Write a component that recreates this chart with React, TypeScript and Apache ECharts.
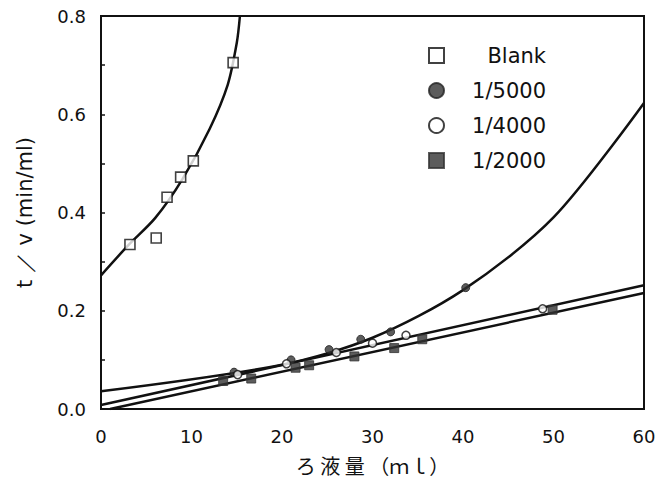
import React, { useEffect, useRef } from "react";
import * as echarts from "echarts";

// Measured points
const blankPts = [[3.2, 0.335], [6.1, 0.348], [7.3, 0.431], [8.8, 0.472], [10.2, 0.505], [14.6, 0.705]];
const p5000Pts = [[14.7, 0.075], [21.0, 0.1], [25.2, 0.121], [28.7, 0.142], [32.0, 0.157], [40.3, 0.247]];
const p4000Pts = [[15.1, 0.07], [20.5, 0.092], [26.0, 0.115], [30.0, 0.134], [33.7, 0.15], [48.8, 0.204]];
const p2000Pts = [[13.5, 0.057], [16.6, 0.062], [21.5, 0.084], [23.0, 0.089], [28.0, 0.107], [32.4, 0.124], [35.5, 0.142], [49.9, 0.202]];

// Fitted curves
const blankCurve = [[0, 0.272], [3, 0.333], [6, 0.389], [9, 0.468], [12, 0.57], [14, 0.66], [15, 0.745], [15.35, 0.8]];
const curve5000 = [[0, 0.036], [20, 0.09], [30, 0.145], [40, 0.242], [50, 0.39], [60, 0.623]];
const line4000 = [[0, 0.008], [60, 0.252]];
const line2000 = [[1, 0], [60, 0.236]];

const xTicks = { min: 0, max: 60, interval: 10 };
const yTicks = { min: 0, max: 0.8, interval: 0.2 };

const legendNames = ["Blank", "1/5000", "1/4000", "1/2000"];

const FONT = "DejaVu Sans";
const CJK = "Noto Sans CJK JP";

export default function App() {
  const ref = useRef<HTMLDivElement>(null);
  useEffect(() => {
    if (!ref.current) return;
    const chart = echarts.init(ref.current, null, { renderer: "svg" });
    const lineSeries = (name: string, data: number[][], smooth: number | boolean) => ({
      name,
      type: "line",
      data,
      smooth,
      showSymbol: false,
      symbol: "none",
      lineStyle: { color: "#111", width: 2.5 },
      z: 2,
      silent: true,
    });
    chart.setOption({
      animation: false,
      backgroundColor: "#fff",
      grid: {
        left: 101,
        right: 17,
        top: 16,
        bottom: 76,
        show: true,
        borderColor: "#111",
        borderWidth: 2,
        backgroundColor: "transparent",
      },
      legend: {
        data: legendNames,
        orient: "vertical",
        left: 423,
        top: 40,
        itemWidth: 15,
        itemHeight: 15,
        itemGap: 14,
        selectedMode: false,
        formatter: (n: string) => "{a|" + n + "}",
        textStyle: {
          color: "#111",
          rich: { a: { width: 97, align: "right", fontSize: 21, fontFamily: FONT, color: "#111" } },
        },
      },
      xAxis: {
        type: "value",
        ...xTicks,
        name: "ろ 液 量 （ｍｌ）",
        nameLocation: "middle",
        nameGap: 46,
        nameTextStyle: { fontSize: 20, fontFamily: CJK, color: "#111" },
        axisLine: { show: true, lineStyle: { color: "#111", width: 2 } },
        axisTick: { show: false },
        splitLine: { show: false },
        axisLabel: { fontSize: 18, fontFamily: FONT, color: "#111", margin: 18 },
      },
      yAxis: {
        type: "value",
        ...yTicks,
        name: "t ／ v (min/ml)",
        nameLocation: "middle",
        nameGap: 66,
        nameTextStyle: { fontSize: 21, fontFamily: FONT, color: "#111" },
        axisLine: { show: true, lineStyle: { color: "#111", width: 2 } },
        axisTick: { show: true, inside: true, length: 4, lineStyle: { color: "#111", width: 1.5 } },
        minorTick: { show: true, splitNumber: 2, length: 4, lineStyle: { color: "#111", width: 1.5 } },
        splitLine: { show: false },
        axisLabel: {
          fontSize: 18,
          fontFamily: FONT,
          color: "#111",
          margin: 15,
          formatter: (v: number) => v.toFixed(1),
        },
      },
      series: [
        lineSeries("fitBlank", blankCurve, 0.3),
        lineSeries("fit5000", curve5000, 0.3),
        lineSeries("fit4000", line4000, false),
        lineSeries("fit2000", line2000, false),
        {
          name: "Blank",
          type: "scatter",
          data: blankPts,
          symbol: "rect",
          symbolSize: 10,
          itemStyle: { color: "#fff", borderColor: "#111", borderWidth: 1.6 },
          z: 5,
        },
        {
          name: "1/5000",
          type: "scatter",
          data: p5000Pts,
          symbol: "circle",
          symbolSize: 8,
          itemStyle: { color: "#333", borderColor: "#222", borderWidth: 1 },
          z: 5,
        },
        {
          name: "1/4000",
          type: "scatter",
          data: p4000Pts,
          symbol: "circle",
          symbolSize: 8,
          itemStyle: { color: "#fff", borderColor: "#111", borderWidth: 1.5 },
          z: 5,
        },
        {
          name: "1/2000",
          type: "scatter",
          data: p2000Pts,
          symbol: "rect",
          symbolSize: 9,
          itemStyle: { color: "#333", borderColor: "#333", borderWidth: 1 },
          z: 5,
        },
      ],
    });
    return () => chart.dispose();
  }, []);
  return <div ref={ref} style={{ width: 661, height: 485, position: "absolute", left: 0, top: 0 }} />;
}
